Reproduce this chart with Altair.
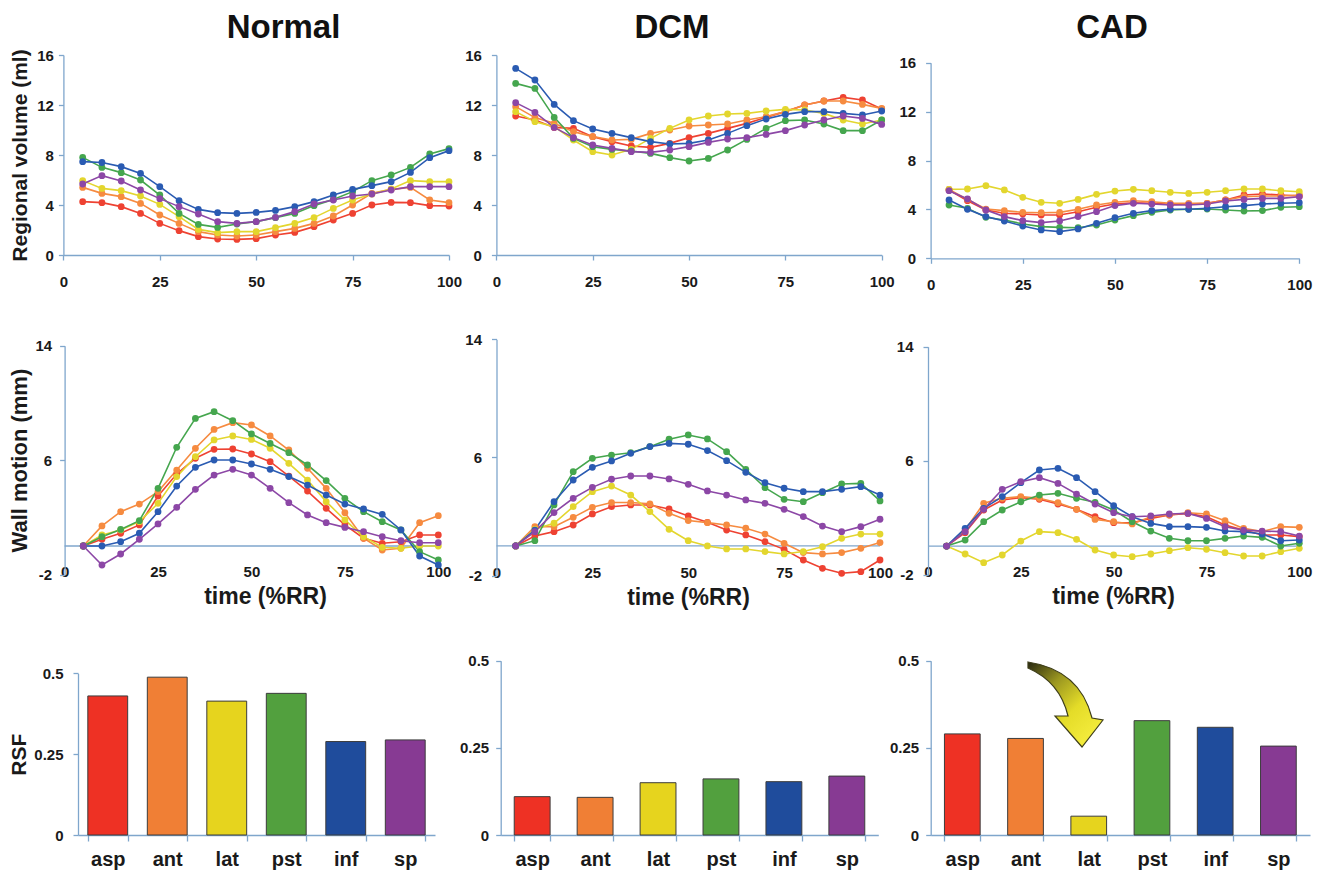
import altair as alt
import pandas as pd

# ---------------- data ----------------
SEGS = ["asp", "ant", "lat", "pst", "inf", "sp"]
LINE_COLORS = ["#ee4232", "#f68b40", "#e3d62e", "#45a64e", "#2a5bb2", "#8c47a6"]
BAR_COLORS = ["#ee3124", "#f07f35", "#e6d41e", "#52a03e", "#1f4c9c", "#873a93"]
TIME = [5, 10, 15, 20, 25, 30, 35, 40, 45, 50, 55, 60, 65, 70, 75, 80, 85, 90, 95, 100]
X_TICKS = [0, 25, 50, 75, 100]
VOL_TICKS = [0, 4, 8, 12, 16]
WM_TICKS = [-2, 6, 14]
RSF_TICKS = [0, 0.25, 0.5]
PANEL_TITLES = ["Normal", "DCM", "CAD"]

# Regional volume (ml) - Normal
NORM_VOL_ASP = [4.27, 4.19, 3.87, 3.33, 2.53, 1.95, 1.47, 1.28, 1.25, 1.31, 1.6, 1.81, 2.27, 2.8, 3.33, 4.0, 4.21, 4.19, 3.95, 3.92]
NORM_VOL_ANT = [5.41, 4.93, 4.67, 4.13, 3.2, 2.53, 1.87, 1.6, 1.52, 1.6, 1.87, 2.13, 2.53, 3.12, 4.0, 4.93, 5.25, 5.41, 4.4, 4.19]
NORM_VOL_LAT = [5.95, 5.33, 5.15, 4.72, 4.05, 3.07, 2.05, 1.79, 1.87, 1.87, 2.19, 2.53, 2.99, 3.73, 4.4, 4.88, 5.28, 5.95, 5.87, 5.87]
NORM_VOL_PST = [7.81, 7.01, 6.59, 6.0, 4.8, 3.33, 2.45, 2.21, 2.48, 2.67, 2.99, 3.33, 3.95, 4.45, 5.07, 5.95, 6.4, 7.01, 8.08, 8.51]
NORM_VOL_INF = [7.47, 7.4, 7.07, 6.53, 5.47, 4.35, 3.65, 3.39, 3.33, 3.41, 3.57, 3.87, 4.27, 4.8, 5.25, 5.55, 5.87, 6.61, 7.79, 8.35]
NORM_VOL_SP = [5.68, 6.35, 5.92, 5.2, 4.51, 3.87, 3.28, 2.67, 2.53, 2.67, 3.01, 3.47, 4.08, 4.4, 4.72, 4.88, 5.2, 5.47, 5.47, 5.47]

# Regional volume (ml) - DCM
DCM_VOL_ASP = [11.12, 10.8, 10.21, 10.13, 9.47, 9.07, 8.72, 8.61, 8.93, 9.39, 9.73, 10.13, 10.53, 11.01, 11.47, 12.0, 12.32, 12.61, 12.4, 11.68]
DCM_VOL_ANT = [11.87, 10.99, 10.53, 9.87, 9.47, 9.2, 9.25, 9.73, 10.0, 10.32, 10.4, 10.48, 10.8, 11.07, 11.47, 12.0, 12.32, 12.32, 12.05, 11.73]
DCM_VOL_LAT = [11.47, 10.67, 10.27, 9.2, 8.27, 8.0, 8.45, 9.33, 10.13, 10.8, 11.12, 11.28, 11.33, 11.52, 11.65, 11.6, 11.33, 10.8, 10.48, 10.8]
DCM_VOL_PST = [13.73, 13.33, 11.01, 9.33, 8.67, 8.45, 8.32, 8.13, 7.79, 7.52, 7.73, 8.4, 9.25, 10.13, 10.75, 10.8, 10.48, 9.95, 9.95, 10.8]
DCM_VOL_INF = [14.93, 14.0, 12.05, 10.75, 10.08, 9.73, 9.39, 9.07, 8.88, 8.93, 9.2, 9.73, 10.35, 10.88, 11.25, 11.47, 11.47, 11.33, 11.2, 11.52]
DCM_VOL_SP = [12.19, 11.41, 10.21, 9.39, 8.8, 8.53, 8.27, 8.21, 8.4, 8.67, 9.01, 9.28, 9.39, 9.65, 9.95, 10.4, 10.8, 11.12, 10.93, 10.45]

# Regional volume (ml) - CAD
CAD_VOL_ASP = [5.59, 4.71, 3.95, 3.68, 3.62, 3.54, 3.54, 3.81, 4.17, 4.44, 4.55, 4.5, 4.41, 4.44, 4.5, 4.77, 5.18, 5.26, 5.18, 5.1]
CAD_VOL_ANT = [5.64, 4.82, 4.03, 3.9, 3.76, 3.73, 3.76, 4.01, 4.36, 4.58, 4.71, 4.63, 4.5, 4.5, 4.5, 4.77, 5.04, 5.1, 5.1, 5.18]
CAD_VOL_LAT = [5.64, 5.67, 5.94, 5.59, 4.99, 4.58, 4.5, 4.82, 5.23, 5.5, 5.64, 5.53, 5.4, 5.31, 5.4, 5.53, 5.67, 5.67, 5.53, 5.45]
CAD_VOL_PST = [4.36, 4.09, 3.35, 3.13, 2.81, 2.59, 2.53, 2.5, 2.72, 3.13, 3.49, 3.76, 3.95, 4.01, 4.03, 3.95, 3.87, 3.9, 4.17, 4.22]
CAD_VOL_INF = [4.77, 4.01, 3.41, 3.05, 2.64, 2.32, 2.18, 2.4, 2.86, 3.32, 3.68, 3.9, 4.01, 4.01, 4.09, 4.22, 4.31, 4.44, 4.5, 4.55]
CAD_VOL_SP = [5.53, 4.85, 3.95, 3.41, 3.08, 2.92, 3.05, 3.41, 3.81, 4.31, 4.5, 4.44, 4.36, 4.36, 4.44, 4.69, 4.82, 4.9, 4.9, 5.04]

# Wall motion (mm) - Normal
NORM_WM_ASP = [0, 0.47, 0.89, 1.47, 3.49, 5.03, 6.13, 6.76, 6.78, 6.43, 5.89, 4.89, 3.84, 2.63, 1.47, 0.54, 0.19, 0.3, 0.77, 0.77]
NORM_WM_ANT = [0, 1.4, 2.4, 2.93, 3.8, 5.31, 6.83, 8.15, 8.62, 8.46, 7.69, 6.71, 5.43, 4.03, 2.33, 0.54, -0.28, -0.16, 1.63, 2.12]
NORM_WM_LAT = [0, 0.77, 1.12, 1.7, 2.98, 4.85, 6.24, 7.41, 7.69, 7.45, 6.83, 5.78, 4.61, 3.1, 1.82, 0.65, -0.09, -0.16, 0, 0]
NORM_WM_PST = [0, 0.65, 1.16, 1.77, 4.03, 6.9, 8.92, 9.39, 8.76, 7.83, 7.17, 6.52, 5.66, 4.57, 3.33, 2.4, 1.7, 1.12, -0.4, -0.98]
NORM_WM_INF = [0, 0, 0.3, 0.89, 2.4, 4.19, 5.5, 6.01, 6.01, 5.73, 5.36, 4.85, 4.26, 3.56, 2.93, 2.59, 2.21, 1.12, -0.7, -1.33]
NORM_WM_SP = [0, -1.33, -0.56, 0.47, 1.54, 2.7, 3.96, 4.96, 5.36, 4.96, 4.03, 3.03, 2.17, 1.63, 1.3, 1.0, 0.65, 0.37, 0.23, 0.23]

# Wall motion (mm) - DCM
DCM_WM_ASP = [0, 0.68, 0.97, 1.42, 2.17, 2.66, 2.78, 2.78, 2.51, 2.03, 1.6, 1.08, 0.75, 0.29, -0.23, -0.95, -1.51, -1.85, -1.74, -0.95]
DCM_WM_ANT = [0, 1.31, 1.31, 1.94, 2.62, 2.94, 2.94, 2.85, 2.21, 1.72, 1.58, 1.42, 1.2, 0.81, 0.18, -0.45, -0.54, -0.45, -0.16, 0.23]
DCM_WM_LAT = [0, 1.13, 1.54, 2.66, 3.68, 4.06, 3.45, 2.33, 1.13, 0.36, 0, -0.2, -0.2, -0.38, -0.54, -0.38, -0.05, 0.52, 0.81, 0.81]
DCM_WM_PST = [0, 0.36, 2.78, 5.03, 5.94, 6.16, 6.32, 6.73, 7.23, 7.52, 7.25, 6.39, 5.19, 3.95, 3.16, 3.0, 3.61, 4.2, 4.24, 3.05]
DCM_WM_INF = [0, 1.08, 3.0, 4.47, 5.33, 5.76, 6.28, 6.73, 6.95, 6.89, 6.46, 5.78, 4.99, 4.29, 3.91, 3.68, 3.68, 3.84, 4.02, 3.45]
DCM_WM_SP = [0, 0.97, 2.26, 3.23, 3.97, 4.52, 4.74, 4.74, 4.54, 4.18, 3.73, 3.45, 3.12, 2.89, 2.48, 1.99, 1.35, 0.97, 1.31, 1.81]

# Wall motion (mm) - CAD
CAD_WM_ASP = [0, 0.94, 2.53, 3.23, 3.4, 3.28, 2.95, 2.58, 2.06, 1.64, 1.64, 1.94, 2.18, 2.29, 2.06, 1.48, 1.12, 0.77, 0.77, 0.66]
CAD_WM_ANT = [0, 1.12, 3.0, 3.35, 3.47, 3.35, 3.04, 2.58, 1.87, 1.71, 1.55, 2.06, 2.18, 2.34, 2.25, 1.78, 1.24, 1.01, 1.36, 1.31]
CAD_WM_LAT = [0, -0.56, -1.17, -0.63, 0.35, 1.01, 0.94, 0.47, -0.28, -0.63, -0.75, -0.56, -0.33, -0.12, -0.23, -0.47, -0.7, -0.7, -0.4, -0.16]
CAD_WM_PST = [0, 0.42, 1.71, 2.53, 3.11, 3.58, 3.7, 3.35, 3.07, 2.53, 1.71, 1.05, 0.54, 0.37, 0.37, 0.54, 0.7, 0.61, 0, 0.19]
CAD_WM_INF = [0, 1.24, 2.65, 3.47, 4.45, 5.34, 5.46, 4.8, 3.82, 2.83, 2.06, 1.59, 1.36, 1.36, 1.31, 1.05, 1.01, 0.84, 0.37, 0.42]
CAD_WM_SP = [0, 1.01, 2.58, 3.98, 4.52, 4.8, 4.4, 3.65, 2.95, 2.34, 2.06, 2.11, 2.25, 2.29, 1.94, 1.36, 1.12, 1.05, 1.01, 0.7]

# Regional shape factor
NORM_RSF = [0.43, 0.488, 0.414, 0.438, 0.289, 0.294]
DCM_RSF = [0.11, 0.108, 0.15, 0.161, 0.153, 0.169]
CAD_RSF = [0.29, 0.277, 0.054, 0.328, 0.309, 0.255]

# ---------------- style / layout ----------------
W, H = 1313, 862
FONT = "Liberation Sans"
AXIS_COLOR = "#7fa6cc"
TEXT_COLOR = "#1a1a1a"
PLAIN_LABEL = "'' + datum.value"


def long_df(series):
    rows = []
    for seg, vals in zip(SEGS, series):
        for t, v in zip(TIME, vals):
            rows.append({"t": t, "v": v, "seg": seg})
    return pd.DataFrame(rows)


def line_panel(series, xr, yr, ydom, yticks, kind, ytitle="", ytitle_size=21,
               ytitle_pad=6, ylabel_pad=5, xtitle_x=0):
    """Returns a flat list of unit charts (the line layer carries the axes)."""
    x0, x1 = xr
    ytop, ybot = yr
    df = long_df(series)

    def xs():
        return alt.Scale(domain=[0, 100], range=[x0, x1], nice=False, zero=False)

    def ys():
        return alt.Scale(domain=ydom, range=[ybot, ytop], nice=False, zero=False)

    yaxis = alt.Axis(orient="left", offset=-x0, values=yticks, title=ytitle,
                     labelExpr=PLAIN_LABEL,
                     titleFontSize=ytitle_size, titlePadding=ytitle_pad,
                     tickSize=5, labelPadding=ylabel_pad, labelFlush=False,
                     labelOverlap=False)
    if kind == "vol":
        xaxis = alt.Axis(orient="bottom", offset=ybot - H, values=X_TICKS, title="",
                         tickSize=5, labelPadding=14, labelFlush=False,
                         labelOverlap=False)
    else:
        xaxis = alt.Axis(orient="bottom", offset=ybot - 10 - H, values=X_TICKS,
                         domain=False, ticks=False, tickSize=0, labelPadding=0,
                         labelFlush=False, labelOverlap=False,
                         title="time (%RR)", titleFontSize=23,
                         titleX=xtitle_x, titleY=32, titleBaseline="middle",
                         titleAlign="center")

    def color():
        return alt.Color("seg:N", scale=alt.Scale(domain=SEGS, range=LINE_COLORS),
                         legend=None)

    base = alt.Chart(df)
    lines = base.mark_line(strokeWidth=1.6).encode(
        x=alt.X("t:Q", scale=xs(), axis=xaxis),
        y=alt.Y("v:Q", scale=ys(), axis=yaxis),
        color=color(),
    )
    pts = base.mark_circle(size=46, opacity=1).encode(
        x=alt.X("t:Q", scale=xs(), axis=None),
        y=alt.Y("v:Q", scale=ys(), axis=None),
        color=color(),
    )
    units = [lines, pts]
    if kind == "wm":
        zero = alt.Chart(pd.DataFrame({"xa": [0], "xb": [100], "y0": [0]})).mark_rule(
            color=AXIS_COLOR, strokeWidth=1.3
        ).encode(
            x=alt.X("xa:Q", scale=xs(), axis=None),
            x2="xb:Q",
            y=alt.Y("y0:Q", scale=ys(), axis=None),
        )
        units = [zero] + units
    return units


def bar_panel(vals, xr, yr, pad, ytitle="", ylabel_pad=7):
    x0, x1 = xr
    ytop, ybot = yr
    df = pd.DataFrame({"seg": SEGS, "rsf": vals})
    xs = alt.Scale(domain=SEGS, range=[x0, x1], paddingInner=pad, paddingOuter=pad / 2)
    ys = alt.Scale(domain=[0, 0.5], range=[ybot, ytop], nice=False, zero=True)
    return [alt.Chart(df).mark_bar(stroke="#3c3c3c", strokeWidth=1).encode(
        x=alt.X("seg:N", sort=SEGS, scale=xs,
                axis=alt.Axis(orient="bottom", offset=ybot - H, tickBand="extent",
                              tickSize=6, labelPadding=8, labelFontSize=20,
                              labelAngle=0, title="")),
        y=alt.Y("rsf:Q", scale=ys,
                axis=alt.Axis(orient="left", offset=-x0, values=RSF_TICKS,
                              labelExpr=PLAIN_LABEL, title=ytitle,
                              titleFontSize=21, titlePadding=4, tickSize=5,
                              labelPadding=ylabel_pad, labelFlush=False,
                              labelOverlap=False)),
        color=alt.Color("seg:N", scale=alt.Scale(domain=SEGS, range=BAR_COLORS),
                        legend=None),
    )]


units = []
units += line_panel([NORM_VOL_ASP, NORM_VOL_ANT, NORM_VOL_LAT, NORM_VOL_PST, NORM_VOL_INF, NORM_VOL_SP],
                    (55.4, 441), (47, 247), [0, 16], VOL_TICKS, "vol",
                    ytitle="Regional volume (ml)", ytitle_pad=6, ylabel_pad=5)
units += line_panel([DCM_VOL_ASP, DCM_VOL_ANT, DCM_VOL_LAT, DCM_VOL_PST, DCM_VOL_INF, DCM_VOL_SP],
                    (488.4, 873.7), (47, 247), [0, 16], VOL_TICKS, "vol", ylabel_pad=10)
units += line_panel([CAD_VOL_ASP, CAD_VOL_ANT, CAD_VOL_LAT, CAD_VOL_PST, CAD_VOL_INF, CAD_VOL_SP],
                    (922.6, 1291.3), (54.7, 250.3), [0, 16], VOL_TICKS, "vol", ylabel_pad=10)
units += line_panel([NORM_WM_ASP, NORM_WM_ANT, NORM_WM_LAT, NORM_WM_PST, NORM_WM_INF, NORM_WM_SP],
                    (56.6, 430.3), (337.7, 566.6), [-2, 14], WM_TICKS, "wm",
                    ytitle="Wall motion (mm)", ytitle_size=22, ytitle_pad=3,
                    ylabel_pad=8, xtitle_x=257)
units += line_panel([DCM_WM_ASP, DCM_WM_ANT, DCM_WM_LAT, DCM_WM_PST, DCM_WM_INF, DCM_WM_SP],
                    (488.5, 872), (331.3, 567.5), [-2, 14], WM_TICKS, "wm",
                    ylabel_pad=10, xtitle_x=680)
units += line_panel([CAD_WM_ASP, CAD_WM_ANT, CAD_WM_LAT, CAD_WM_PST, CAD_WM_INF, CAD_WM_SP],
                    (920, 1291.3), (338.7, 566.5), [-2, 14], WM_TICKS, "wm",
                    ylabel_pad=10, xtitle_x=1105)
units += bar_panel(NORM_RSF, (70, 427), (665.3, 827), 0.33, ytitle="RSF", ylabel_pad=10)
units += bar_panel(DCM_RSF, (492.7, 870.3), (652.7, 827), 0.43)
units += bar_panel(CAD_RSF, (922.7, 1302), (652.7, 827), 0.435)

# column titles
title_pos = [(275.5, 30), (664, 30), (1104, 30)]
for name, (tx, ty) in zip(PANEL_TITLES, title_pos):
    units.append(
        alt.Chart(pd.DataFrame({"label": [name]})).mark_text(
            font=FONT, fontSize=33, fontWeight="bold", color="#111111",
            align="center", baseline="alphabetic",
        ).encode(text="label:N", x=alt.value(tx), y=alt.value(ty))
    )

# curved arrow annotation (CAD, pointing at the lateral segment)
ARROW_PATH = ("M -0.884 -1 Q 0.326 -0.814 0.605 0.302 L 0.86 0.349 L 0.372 0.977 "
              "L -0.256 0.256 L 0.047 0.256 Q -0.14 -0.535 -0.884 -0.86 Z")
arrow_fill = alt.LinearGradient(
    gradient="linear",
    stops=[alt.GradientStop(color="#262610", offset=0),
           alt.GradientStop(color="#9a9620", offset=0.35),
           alt.GradientStop(color="#e4dc28", offset=0.7),
           alt.GradientStop(color="#f2ea3a", offset=1)],
    x1=0, y1=0, x2=0.75, y2=0.9,
)
units.append(
    alt.Chart(pd.DataFrame({"a": ["lat"]})).mark_point(
        shape=ARROW_PATH, size=7396, filled=True, fill=arrow_fill,
        stroke="#3e3e1a", strokeWidth=1.2, opacity=1,
    ).encode(x=alt.value(1058), y=alt.value(697))
)

chart = alt.layer(*units).resolve_scale(
    x="independent", y="independent", color="independent"
).properties(
    width=W, height=H, padding=0,
    autosize=alt.AutoSizeParams(type="none"),
    background="white",
).configure_view(
    stroke=None
).configure_axis(
    grid=False,
    domainColor=AXIS_COLOR,
    tickColor=AXIS_COLOR,
    domainWidth=1.3,
    tickWidth=1.3,
    labelFont=FONT,
    labelFontWeight="bold",
    labelFontSize=15,
    labelColor=TEXT_COLOR,
    titleFont=FONT,
    titleFontWeight="bold",
    titleColor=TEXT_COLOR,
)

chart.save("out.html", embed_options={"renderer": "svg", "actions": False})
